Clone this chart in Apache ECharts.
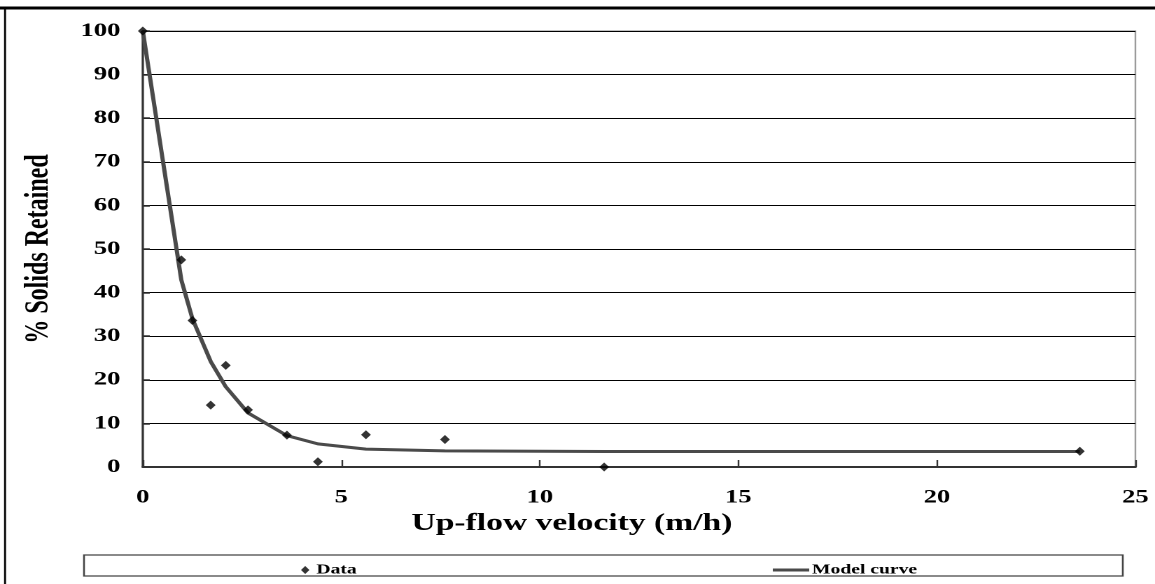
<!DOCTYPE html>
<html>
<head>
<meta charset="utf-8">
<script src="https://cdn.jsdelivr.net/npm/echarts@6/dist/echarts.min.js"></script>
<style>
  html, body { margin: 0; padding: 0; background: #fff; overflow: hidden; }
  /* the original picture is stretched sideways, so draw narrow and widen */
  #chart { width: 825px; height: 584px; transform: scaleX(1.4); transform-origin: 0 0; }
</style>
</head>
<body>
<div id="chart"></div>
<script>
// values
var velocity = [0, 0.97, 1.25, 1.71, 2.09, 2.65, 3.63, 4.41, 5.62, 7.61, 11.62, 23.6];
var solids   = [100, 47.5, 33.6, 14.2, 23.3, 13.1, 7.3, 1.2, 7.4, 6.3, 0, 3.6];
var model    = [100, 42.9, 34.0, 24.2, 18.4, 12.4, 7.2, 5.3, 4.1, 3.7, 3.55, 3.55];
var xTicks = [0, 5, 10, 15, 20, 25];
var yTicks = [0, 10, 20, 30, 40, 50, 60, 70, 80, 90, 100];

var font = "'Liberation Serif', 'Times New Roman', serif";

function pairs(xs, ys){
	var out = [];
	for (var i = 0; i < xs.length; i++) {
		out.push([xs[i], ys[i]]);
	}
	return out;
}

var el = echarts.init(document.getElementById('chart'), null, { devicePixelRatio: 2 });
var option = {
	backgroundColor: '#fff',
	animation: false,
	grid: {
		left: 102, right: 14, top: 31, bottom: 117,
		show: true, borderColor: '#9a9a9a', borderWidth: 1.2, backgroundColor: '#fff'
	},
	xAxis: {
		type: 'value',
		min: xTicks[0], max: xTicks[xTicks.length - 1], interval: 5,
		name: 'Up-flow velocity (m/h)',
		nameLocation: 'middle',
		nameGap: 23,
		nameTextStyle: { fontFamily: font, fontWeight: 'bold', fontSize: 24, color: '#000', padding: [0, 96, 0, 0] },
		axisLine: { lineStyle: { color: '#333', width: 2 } },
		axisTick: { inside: true, length: 7, lineStyle: { color: '#333', width: 1.2 } },
		axisLabel: { margin: 21, fontFamily: font, fontWeight: 'bold', fontSize: 19, color: '#000' },
		splitLine: { show: false }
	},
	yAxis: {
		type: 'value',
		min: yTicks[0], max: yTicks[yTicks.length - 1], interval: 10,
		name: '% Solids Retained',
		nameLocation: 'middle',
		nameGap: 62,
		nameRotate: 90,
		nameTextStyle: { fontFamily: font, fontWeight: 'bold', fontSize: 24, color: '#000' },
		axisLine: { show: true, lineStyle: { color: '#333', width: 1.6 } },
		axisTick: { show: true, inside: true, length: 5, lineStyle: { color: '#333', width: 1.5 } },
		axisLabel: { margin: 16, fontFamily: font, fontWeight: 'bold', fontSize: 19, color: '#000' },
		splitLine: { show: true, lineStyle: { color: '#000', width: 1 } }
	},
	legend: [
		{
			data: ['Data'],
			left: 210, top: 558,
			itemWidth: 6, itemHeight: 8,
			textStyle: { fontFamily: font, fontWeight: 'bold', fontSize: 14, color: '#000' }
		},
		{
			data: [{ name: 'Model curve', icon: 'rect' }],
			left: 547, top: 558,
			itemWidth: 26, itemHeight: 3, itemGap: 2,
			textStyle: { fontFamily: font, fontWeight: 'bold', fontSize: 14, color: '#000', padding: [0, 0, 0, -3] }
		}
	],
	graphic: [
		{ type: 'line', shape: { x1: 0, y1: 8, x2: 825, y2: 8 }, style: { stroke: '#000', lineWidth: 3 } },
		{ type: 'line', shape: { x1: 3.6, y1: 7, x2: 3.6, y2: 584 }, style: { stroke: '#000', lineWidth: 1.4 } },
		{ type: 'rect', shape: { x: 60, y: 555, width: 742, height: 21 }, style: { fill: 'none', stroke: '#444', lineWidth: 1.3 } }
	],
	series: [
		{
			name: 'Model curve',
			type: 'line',
			data: pairs(velocity, model),
			symbol: 'none',
			lineStyle: { color: '#4a4a4a', width: 3 },
			itemStyle: { color: '#4a4a4a' },
			z: 2
		},
		{
			name: 'Data',
			type: 'scatter',
			data: pairs(velocity, solids),
			symbol: 'diamond',
			symbolSize: [7, 9],
			clip: false,
			itemStyle: { color: '#000' },
			z: 3
		}
	]
};
el.setOption(option);
</script>
</body>
</html>
